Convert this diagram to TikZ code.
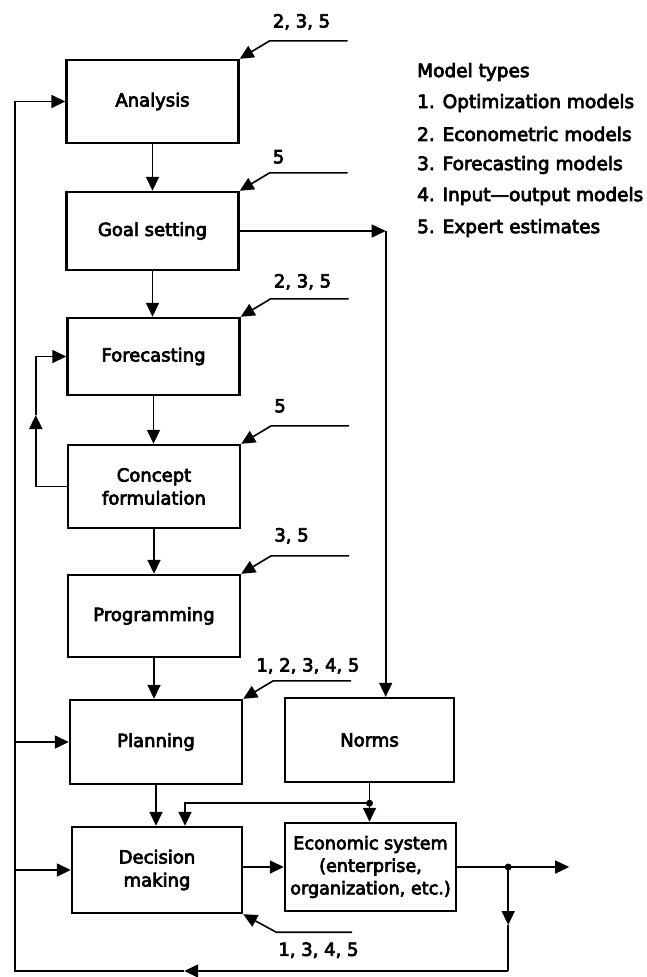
\documentclass[tikz,border=0pt]{standalone}
\usepackage{fontspec}
\setmainfont{DejaVu Sans}[FakeBold=4]
\usetikzlibrary{arrows.meta}

\begin{document}
\begin{tikzpicture}[x=1pt,y=-1pt,
  box/.style={draw, line width=2.4pt, minimum width=172pt, minimum height=82pt,
    inner sep=0pt, align=center, font=\fontsize{18}{23}\selectfont},
  conn/.style={line width=1.6pt},
  tip/.style={-{Triangle[length=14pt,width=13pt]}},
  lbl/.style={font=\fontsize{18}{22}\selectfont, inner sep=0pt, anchor=west},
  legend/.style={font=\fontsize{18.5}{22}\selectfont, inner sep=0pt, anchor=west},
  dot/.style={circle, fill, inner sep=0pt, minimum size=7pt}]
\useasboundingbox (0,0) rectangle (646,977);

% main chain of stages
\node[box, minimum height=83pt] (analysis) at (152.5,101.5) {Analysis};
\node[box, minimum height=78pt] (goal) at (152.5,231) {Goal setting};
\node[box, minimum height=77pt] (fore) at (153.5,356.5) {Forecasting};
\node[box, minimum height=83pt] (concept) at (154,486.5) {Concept\\formulation};
\node[box] (prog) at (154,616) {Programming};
\node[box, minimum height=84pt] (plan) at (156,742) {Planning};
\node[box, minimum width=169pt, minimum height=84pt] (norms) at (369.5,740) {Norms};
\node[box, minimum width=170pt, minimum height=86pt] (dec) at (157,870) {Decision\\making};
\node[box, minimum width=171pt, minimum height=88pt, font=\fontsize{17.6}{22.5}\selectfont]
  (econ) at (370.5,867) {Economic system\\(enterprise,\\organization, etc.)};

% downward flow
\draw[conn,tip] (analysis.south) -- (goal.north);
\draw[conn,tip] (goal.south) -- (goal.south |- fore.north);
\draw[conn,tip] (fore.south) -- (fore.south |- concept.north);
\draw[conn,tip] (concept.south) -- (concept.south |- prog.north);
\draw[conn,tip] (prog.south) -- (prog.south |- plan.north);
\draw[conn,tip] (plan.south) -- (plan.south |- dec.north);

% model inputs entering at the upper right corners
\foreach \b/\t/\lx/\ly in {analysis/{2, 3, 5}/0/-37, goal/5/0/-34, fore/{2, 3, 5}/0/-35,
                          concept/5/0/-38, prog/{3, 5}/0/-38, plan/{1, 2, 3, 4, 5}/-20/-33} {
  \coordinate (\b-k) at ([shift={(30,-18)}]\b.north east);
  \coordinate (\b-e) at ([shift={(108,-18)}]\b.north east);
  \draw[conn,tip] (\b-e) -- (\b-k) -- (\b.north east);
  \node[lbl] (\b-lbl) at ([shift={(33+\lx,\ly)}]\b.north east) {\t};
}

% model input for decision making, from below
\coordinate (dec-k) at ([shift={(33,18)}]dec.south east);
\coordinate (dec-e) at ([shift={(109,18)}]dec.south east);
\draw[conn,tip] (dec-e) -- (dec-k) -- (dec.south east);
\node[lbl] (dec-lbl) at ([shift={(35,36)}]dec.south east) {1, 3, 4, 5};

% feedback from concept formulation to forecasting
\coordinate (fb1) at ([xshift=-31]concept.west);
\coordinate (fbm) at (fb1 |- 0,415);
\coordinate (fb2) at (fb1 |- fore.west);
\draw[conn,tip] (concept.west) -- (fb1) -- (fbm);
\draw[conn,tip] (fbm) -- (fb2) -- (fore.west);

% goal setting to norms
\coordinate (gn) at ([xshift=146]goal.east);
\draw[conn,tip] (goal.east) -- (gn);
\draw[conn,tip] (gn) -- (gn |- norms.north);

% norms to economic system and decision making
\node[dot] (nd) at ([shift={(0,20)}]norms.south) {};
\coordinate (ndk) at ([xshift=28]dec.north |- nd);
\draw[conn] (norms.south) -- (nd.center);
\draw[conn,tip] (nd.center) -- (nd |- econ.north);
\draw[conn,tip] (nd.center) -- (ndk) -- (ndk |- dec.north);

% decision making to economic system
\draw[conn,tip] (dec.east |- econ.west) -- (econ.west);

% output and outer feedback loop
\node[dot] (od) at ([xshift=51]econ.east) {};
\coordinate (out) at ([xshift=112]econ.east);
\coordinate (odm) at ([shift={(0,58)}]od.center);
\coordinate (br) at ([shift={(0,104)}]od.center);
\coordinate (bm) at ([xshift=-324]br);
\coordinate (bl) at ([xshift=-493]br);
\draw[conn] (econ.east) -- (od.center);
\draw[conn,tip] (od.center) -- (out);
\draw[conn,tip] (od.center) -- (odm);
\draw[conn] (odm) -- (br);
\draw[conn,tip] (br) -- (bm);
\draw[conn,tip] (bm) -- (bl) -- (bl |- analysis.west) -- (analysis.west);
\draw[conn,tip] (bl |- plan.west) -- (plan.west);
\draw[conn,tip] (bl |- dec.west) -- (dec.west);

% legend
\node[legend] (lt) at (417,72) {Model types};
\node[legend] (l1) at (417,103) {1. Optimization models};
\node[legend] (l2) at (417,134) {2. Econometric models};
\node[legend] (l3) at (417,165) {3. Forecasting models};
\node[legend] (l4) at (417,196) {4. Input—output models};
\node[legend] (l5) at (417,228) {5. Expert estimates};
\end{tikzpicture}
\end{document}
